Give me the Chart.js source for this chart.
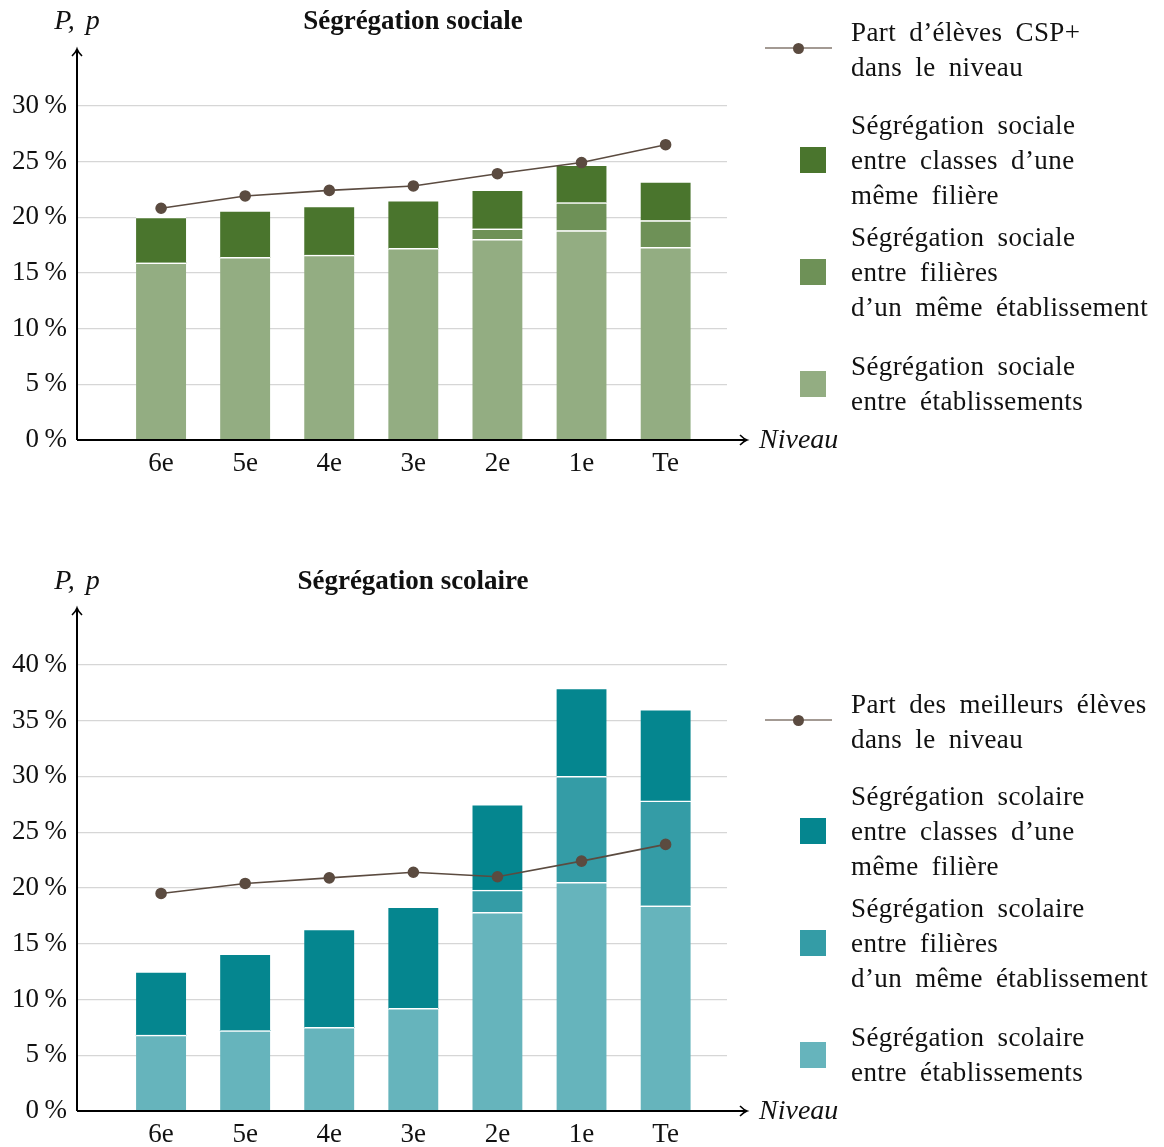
<!DOCTYPE html>
<html>
<head>
<meta charset="utf-8">
<script src="https://cdn.jsdelivr.net/npm/chart.js@4/dist/chart.umd.min.js"></script>
<style>
  html, body { margin: 0; padding: 0; background: #fff; }
  body { width: 1164px; height: 1147px; position: relative; overflow: hidden; font-family: "Liberation Serif", serif; }
  .cw { position: absolute; left: 0; }
  #w1 { top: 0; width: 860px; height: 484px; }
  #w2 { top: 560px; width: 860px; height: 595px; }
  .legend { position: absolute; left: 760px; width: 404px; color: #111; font-size: 27px; line-height: 35px; }
  .item { position: absolute; left: 0; }
  .sw { position: absolute; left: 40px; width: 26px; height: 26px; }
  .txt { position: absolute; left: 91px; white-space: nowrap; word-spacing: 6px; letter-spacing: 0.4px; }
  .ln { position: absolute; left: 5px; width: 67px; height: 2px; background: #a39a93; }
  .dot { position: absolute; left: 33px; width: 11px; height: 11px; border-radius: 50%; background: #5b4b40; }
</style>
</head>
<body>
<div class="cw" id="w1"><canvas id="c1"></canvas></div>
<div class="cw" id="w2"><canvas id="c2"></canvas></div>
<div class="legend" id="lg1" style="top:0"></div>
<div class="legend" id="lg2" style="top:560px"></div>
<script>
// ---------- data ----------
const categories = ['6e', '5e', '4e', '3e', '2e', '1e', 'Te'];
const yTicks = [0, 5, 10, 15, 20, 25, 30, 35, 40];

// Ségrégation sociale (%)
const socEtab     = [15.9, 16.4, 16.6, 17.2, 18.0, 18.8, 17.3];
const socFilieres = [0, 0, 0, 0, 0.95, 2.5, 2.4];
const socClasses  = [4.1, 4.2, 4.4, 4.3, 3.5, 3.4, 3.5];
const partCSP     = [20.8, 21.9, 22.4, 22.8, 23.9, 24.9, 26.5];

// Ségrégation scolaire (%)
const scoEtab     = [6.8, 7.2, 7.5, 9.2, 17.8, 20.5, 18.4];
const scoFilieres = [0, 0, 0, 0, 2.0, 9.5, 9.4];
const scoClasses  = [5.7, 6.9, 8.8, 9.1, 7.7, 7.9, 8.2];
const partMeill   = [19.5, 20.4, 20.9, 21.4, 21.0, 22.4, 23.9];

const FONT = '"Liberation Serif", serif';

function pts(arr) { return arr.map((v, i) => ({ x: i + 1, y: v })); }

const axesPlugin = {
  id: 'axesArrows',
  afterDraw(chart) {
    const { ctx, chartArea, scales } = chart;
    const o = chart.options.plugins.axesArrows;
    const x0 = chartArea.left, y0 = scales.y.getPixelForValue(0);
    const top = chartArea.top, right = chartArea.right + 19;
    ctx.save();
    ctx.strokeStyle = '#000';
    ctx.lineWidth = 2;
    ctx.beginPath();
    ctx.moveTo(x0, y0); ctx.lineTo(x0, top);
    ctx.moveTo(x0, y0); ctx.lineTo(right, y0);
    ctx.stroke();
    ctx.lineWidth = 1.6;
    ctx.beginPath();
    ctx.moveTo(x0 - 5, top + 6); ctx.quadraticCurveTo(x0 - 1, top + 2, x0, top - 1); ctx.quadraticCurveTo(x0 + 1, top + 2, x0 + 5, top + 6);
    ctx.moveTo(right - 6, y0 - 5); ctx.quadraticCurveTo(right - 2, y0 - 1, right + 1, y0); ctx.quadraticCurveTo(right - 2, y0 + 1, right - 6, y0 + 5);
    ctx.stroke();
    ctx.fillStyle = '#111';
    ctx.textBaseline = 'middle';
    ctx.font = 'italic 28px ' + FONT;
    ctx.textAlign = 'left';
    ctx.fillText('Niveau', right + 13, y0 + 1);
    ctx.textAlign = 'center';
    ctx.fillText('P,\u2009\u2009p', x0, o.pY);
    ctx.font = 'bold 27px ' + FONT;
    ctx.fillText(o.title, o.titleX, o.pY);
    ctx.restore();
  }
};

function makeChart(id, title, etab, fil, cls, line, colors, lineLabel, labels, yMax, gridMax, padTop) {
  return new Chart(document.getElementById(id), {
    type: 'bar',
    data: {
      datasets: [
        { type: 'line', label: lineLabel, data: pts(line), borderColor: '#5b4b40', backgroundColor: '#5b4b40',
          borderWidth: 1.6, pointRadius: 5, pointHoverRadius: 5, order: 0 },
        { label: labels[0], data: pts(etab), backgroundColor: colors[0], order: 1 },
        { label: labels[1], data: pts(fil), backgroundColor: colors[1], order: 1 },
        { label: labels[2], data: pts(cls), backgroundColor: colors[2], order: 1 }
      ].map(d => d.type === 'line' ? d : Object.assign(d, {
        barThickness: 50, borderColor: '#ffffff', borderWidth: { top: 1.5, bottom: 0, left: 0, right: 0 }, borderSkipped: false
      }))
    },
    options: {
      responsive: true, maintainAspectRatio: false, animation: false,
      layout: { padding: { left: 0, right: 133, top: padTop, bottom: 0 } },
      plugins: {
        legend: { display: false },
        tooltip: { enabled: false },
        title: { display: false },
        axesArrows: { pY: 22, title: title, titleX: 413 }
      },
      scales: {
        x: {
          type: 'linear', min: 0, max: 7.73, stacked: true, offset: false,
          afterFit: s => { s.height = 44; },
          grid: { display: false, drawTicks: false, offset: false },
          border: { display: false },
          ticks: {
            stepSize: 1, includeBounds: false, autoSkip: false, maxRotation: 0, padding: 8,
            color: '#111', font: { family: FONT, size: 27 },
            callback: v => (Number.isInteger(v) && v >= 1 && v <= categories.length) ? categories[v - 1] : ''
          }
        },
        y: {
          min: 0, max: yMax, stacked: true,
          afterFit: s => { s.width = 77; },
          afterBuildTicks: s => { s.ticks = yTicks.filter(t => t <= yMax).map(v => ({ value: v })); },
          grid: { drawTicks: false, lineWidth: 1.2, color: c => (c.tick && c.tick.value > 0 && c.tick.value <= gridMax) ? '#d6d6d6' : 'rgba(0,0,0,0)' },
          border: { display: false },
          ticks: {
            padding: 10, color: '#111', font: { family: FONT, size: 27 },
            callback: v => v <= gridMax ? v + '\u2009%' : ''
          }
        }
      }
    },
    plugins: [axesPlugin]
  });
}

const green = ['#93ad82', '#6e9157', '#4a752d'];
const teal  = ['#66b4bc', '#349ca6', '#05868f'];

const socLabels = ['Ségrégation sociale entre établissements', 'Ségrégation sociale entre filières d’un même établissement', 'Ségrégation sociale entre classes d’une même filière'];
const scoLabels = ['Ségrégation scolaire entre établissements', 'Ségrégation scolaire entre filières d’un même établissement', 'Ségrégation scolaire entre classes d’une même filière'];

makeChart('c1', 'Ségrégation sociale', socEtab, socFilieres, socClasses, partCSP, green,
  'Part d’élèves CSP+ dans le niveau', socLabels, 35, 30, 50);
makeChart('c2', 'Ségrégation scolaire', scoEtab, scoFilieres, scoClasses, partMeill, teal,
  'Part des meilleurs élèves dans le niveau', scoLabels, 45, 40, 49);

// ---------- HTML legends ----------
function legend(el, lineLines, lineY, items) {
  let h = '';
  h += `<div class="item" style="top:${lineY}px"><div class="ln" style="top:-1px"></div><div class="dot" style="top:-5.5px"></div></div>`;
  h += `<div class="txt" style="top:${lineY - 33}px">${lineLines.join('<br>')}</div>`;
  items.forEach(it => {
    h += `<div class="sw" style="top:${it.y - 13}px;background:${it.color}"></div>`;
    const n = it.lines.length;
    h += `<div class="txt" style="top:${it.y - n * 17.5}px">${it.lines.join('<br>')}</div>`;
  });
  el.innerHTML = h;
}
legend(document.getElementById('lg1'), ['Part d’élèves CSP+', 'dans le niveau'], 48, [
  { y: 160, color: green[2], lines: ['Ségrégation sociale', 'entre classes d’une', 'même filière'] },
  { y: 272, color: green[1], lines: ['Ségrégation sociale', 'entre filières', 'd’un même établissement'] },
  { y: 384, color: green[0], lines: ['Ségrégation sociale', 'entre établissements'] }
]);
legend(document.getElementById('lg2'), ['Part des meilleurs élèves', 'dans le niveau'], 160, [
  { y: 271, color: teal[2], lines: ['Ségrégation scolaire', 'entre classes d’une', 'même filière'] },
  { y: 383, color: teal[1], lines: ['Ségrégation scolaire', 'entre filières', 'd’un même établissement'] },
  { y: 495, color: teal[0], lines: ['Ségrégation scolaire', 'entre établissements'] }
]);
</script>
</body>
</html>
